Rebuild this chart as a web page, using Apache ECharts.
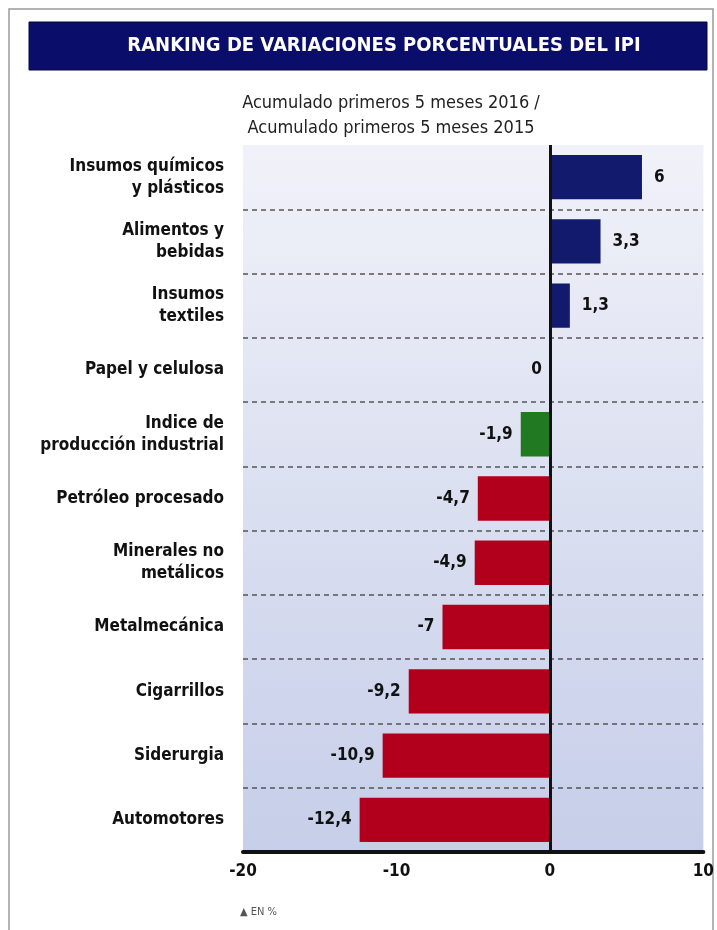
<!DOCTYPE html>
<html>
<head>
<meta charset="utf-8">
<script src="https://cdn.jsdelivr.net/npm/echarts@6/dist/echarts.min.js"></script>
<style>
html,body{margin:0;padding:0;background:#fff;}
#c{width:717px;height:930px;}
</style>
</head>
<body>
<div id="c"></div>
<script>
const titleText = 'RANKING DE VARIACIONES PORCENTUALES DEL IPI';
const subtitleText = 'Acumulado primeros 5 meses 2016 /\nAcumulado primeros 5 meses 2015';
const noteText = '▲ EN %';
const categories = ['Insumos químicos\ny plásticos', 'Alimentos y\nbebidas', 'Insumos\ntextiles', 'Papel y celulosa', 'Indice de\nproducción industrial', 'Petróleo procesado', 'Minerales no\nmetálicos', 'Metalmecánica', 'Cigarrillos', 'Siderurgia', 'Automotores'];
const values = [6, 3.3, 1.3, 0, -1.9, -4.7, -4.9, -7, -9.2, -10.9, -12.4];
const xTicks = [-20, -10, 0, 10];

const COND = '"Liberation Sans Narrow", "DejaVu Sans Condensed", "Roboto", sans-serif';
const NAVY = '#121a6e', GREEN = '#217a22', RED = '#b2001c';

const chart = echarts.init(document.getElementById('c'));
const data = values.map((v, i) => {
  const isIndex = categories[i].indexOf('Indice') === 0;
  const neg = v <= 0;
  return {
    value: v,
    itemStyle: { color: isIndex ? GREEN : (v > 0 ? NAVY : RED) },
    label: { position: neg ? 'left' : 'right', distance: neg ? 8 : 12 }
  };
});

chart.setOption({
  animation: false,
  backgroundColor: '#ffffff',
  graphic: [
    { type: 'rect', shape: { x: 9, y: 9, width: 704, height: 925 }, style: { fill: 'none', stroke: '#9a9a9a', lineWidth: 1.5 }, z: -10 },
    { type: 'rect', shape: { x: 29, y: 22, width: 678, height: 48 }, style: { fill: '#0b0d6a', stroke: '#05063f', lineWidth: 1 } },
    { type: 'text', x: 384, y: 46, style: { text: titleText, fill: '#ffffff', font: 'bold 20px ' + COND, align: 'center', verticalAlign: 'middle' } },
    { type: 'text', x: 391, y: 116, style: { text: subtitleText, fill: '#222', font: '18px ' + COND, align: 'center', verticalAlign: 'middle', lineHeight: 25 } },
    { type: 'text', x: 240, y: 912, style: { text: noteText, fill: '#555', font: '11px ' + COND, align: 'left', verticalAlign: 'middle' } }
  ],
  grid: {
    left: 243, right: 9, top: 145, bottom: 78,
    show: true, borderWidth: 0,
    backgroundColor: { type: 'linear', x: 0, y: 0, x2: 0, y2: 1, colorStops: [{ offset: 0, color: '#f1f2f9' }, { offset: 0.4, color: '#dfe3f2' }, { offset: 1, color: '#c6cee9' }] }
  },
  xAxis: {
    type: 'value', min: -20, max: 10, interval: 10,
    axisLine: { show: true, onZero: false, lineStyle: { color: '#111', width: 4 } },
    axisTick: { show: false },
    splitLine: { show: false },
    axisLabel: {
      margin: 11, color: '#111', fontFamily: COND, fontWeight: 'bold', fontSize: 17,
      customValues: xTicks, formatter: v => String(v)
    }
  },
  yAxis: {
    type: 'category', data: categories, inverse: true,
    axisLine: { show: false }, axisTick: { show: false },
    axisLabel: { margin: 19, color: '#111', fontFamily: COND, fontWeight: 'bold', fontSize: 17, lineHeight: 22, align: 'right' },
    splitLine: { show: true, showMinLine: false, showMaxLine: false, lineStyle: { color: '#555', width: 1.5, type: [5, 4] } }
  },
  series: [{
    type: 'bar', data: data, barWidth: '69%',
    label: {
      show: true, color: '#111', fontFamily: COND, fontWeight: 'bold', fontSize: 17,
      formatter: p => String(p.value).replace('.', ',')
    },
    markLine: {
      silent: true, symbol: 'none', label: { show: false },
      lineStyle: { color: '#111', width: 3, type: 'solid' },
      data: [{ xAxis: 0 }]
    }
  }]
});
</script>
</body>
</html>
